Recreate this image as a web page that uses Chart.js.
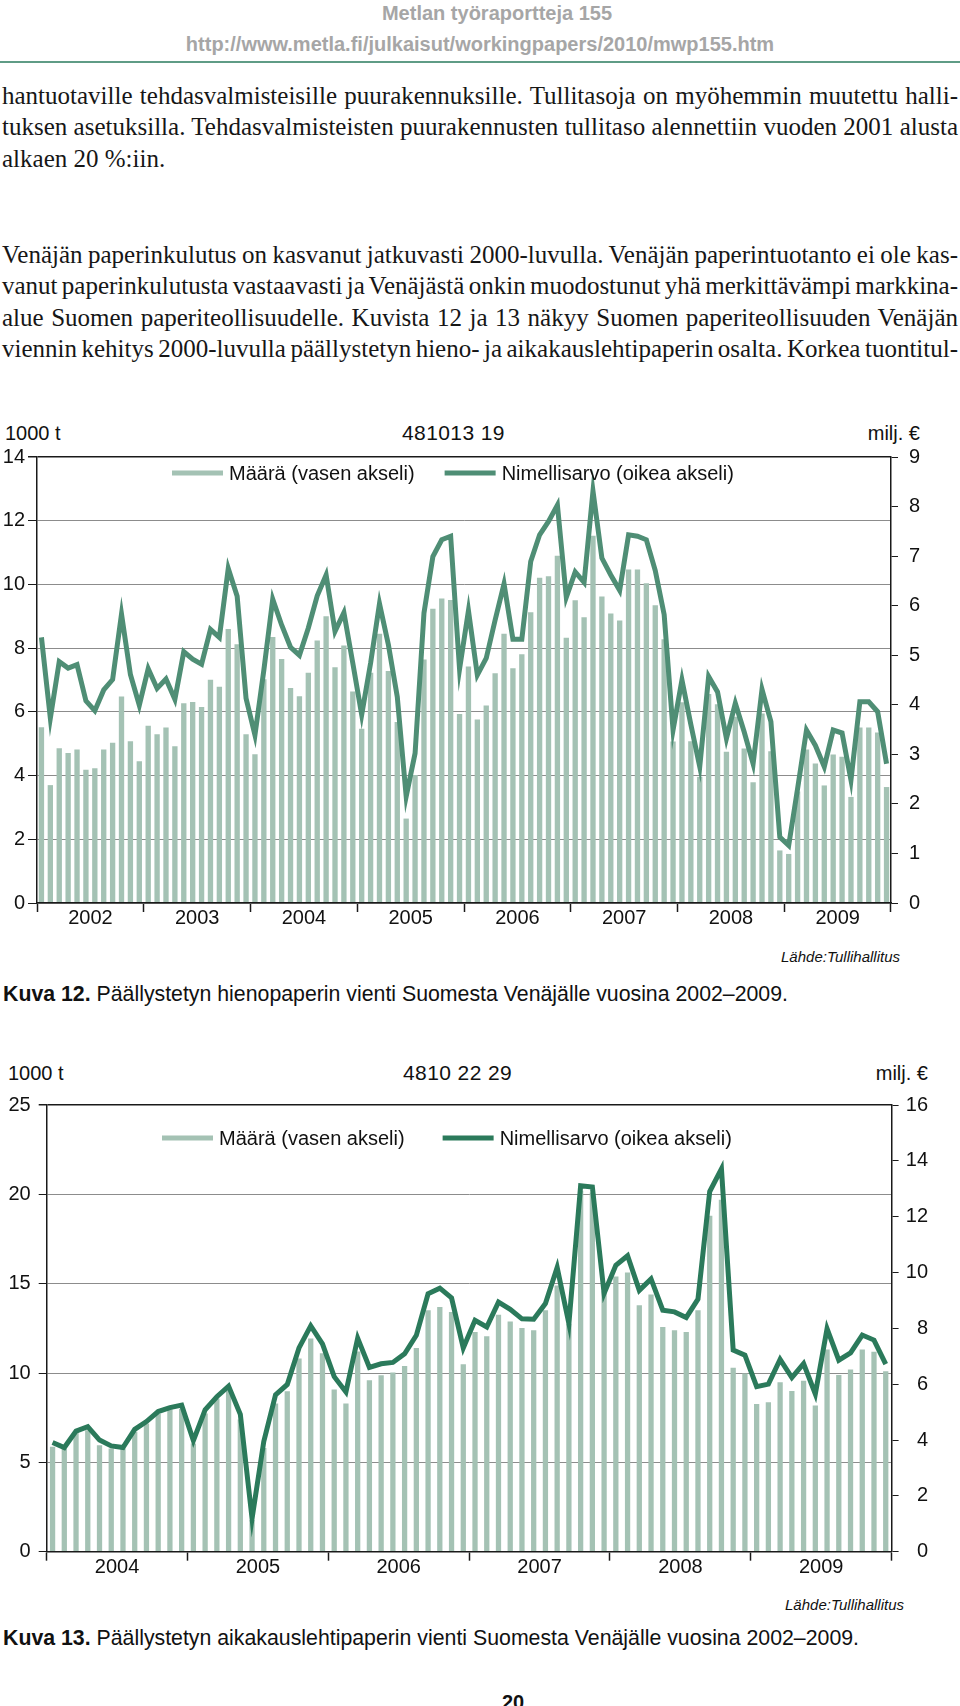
<!DOCTYPE html>
<html lang="fi">
<head>
<meta charset="utf-8">
<title>Kuvat 12 ja 13</title>
<script src="https://cdn.jsdelivr.net/npm/chart.js@4.4.1/dist/chart.umd.min.js"></script>
<style>
  body { margin: 0; background: #fff; }
  .page { position: relative; width: 960px; height: 1706px; overflow: hidden; background: #fff;
          font-family: "Liberation Sans", Arial, Helvetica, sans-serif; color: #111; }
  .abs { position: absolute; white-space: nowrap; line-height: 23px; font-size: 20px; }
  .hdr { font-weight: bold; color: #a6a6a6; text-align: center; width: 700px; }
  .rule { position: absolute; left: 0; top: 61px; width: 960px; height: 2px; background: #5f9c86; }
  .para { position: absolute; left: 2px; width: 956px; font-family: "Liberation Serif", "Times New Roman", serif;
          font-size: 25px; line-height: 31.4px; color: #161616; }
  .ln { white-space: nowrap; }
  .code { font-size: 21px; letter-spacing: 0.4px; }
  .cap { font-size: 21.3px; }
  .src { font-style: italic; font-size: 15px; }
  .box { position: absolute; left: 0; }
</style>
</head>
<body>
<div class="page">
  <div class="abs hdr" style="left:147px; top:2px;">Metlan työraportteja 155</div>
  <div class="abs hdr" style="left:130px; top:33px;">http://www.metla.fi/julkaisut/workingpapers/2010/mwp155.htm</div>
  <div class="rule"></div>

  <div class="para" style="top:80px;">
    <div class="ln j"><span>hantuotaville tehdasvalmisteisille puurakennuksille. Tullitasoja on myöhemmin muutettu halli-</span></div>
    <div class="ln j"><span>tuksen asetuksilla. Tehdasvalmisteisten puurakennusten tullitaso alennettiin vuoden 2001 alusta</span></div>
    <div class="ln"><span>alkaen 20 %:iin.</span></div>
  </div>
  <div class="para" style="top:239px;">
    <div class="ln j"><span>Venäjän paperinkulutus on kasvanut jatkuvasti 2000-luvulla. Venäjän paperintuotanto ei ole kas-</span></div>
    <div class="ln j"><span>vanut paperinkulutusta vastaavasti ja Venäjästä onkin muodostunut yhä merkittävämpi markkina-</span></div>
    <div class="ln j"><span>alue Suomen paperiteollisuudelle. Kuvista 12 ja 13 näkyy Suomen paperiteollisuuden Venäjän</span></div>
    <div class="ln j"><span>viennin kehitys 2000-luvulla päällystetyn hieno- ja aikakauslehtipaperin osalta. Korkea tuontitul-</span></div>
  </div>

  <!-- Kuva 12 -->
  <div class="abs" style="left:5px; top:422px;">1000 t</div>
  <div class="abs code" style="left:402px; top:421px;">481013 19</div>
  <div class="abs" style="right:40px; top:422px;">milj. €</div>
  <div class="box" style="top:440px; width:920px; height:500px;"><canvas id="chart12"></canvas></div>
  <div class="abs src" style="right:60px; top:945px;">Lähde:Tullihallitus</div>
  <div class="abs cap" style="left:3px; top:983px;"><b>Kuva 12.</b> Päällystetyn hienopaperin vienti Suomesta Venäjälle vuosina 2002–2009.</div>

  <!-- Kuva 13 -->
  <div class="abs" style="left:8px; top:1062px;">1000 t</div>
  <div class="abs code" style="left:403px; top:1061px;">4810 22 29</div>
  <div class="abs" style="right:32px; top:1062px;">milj. €</div>
  <div class="box" style="top:1085px; width:928px; height:505px;"><canvas id="chart13"></canvas></div>
  <div class="abs src" style="right:56px; top:1593px;">Lähde:Tullihallitus</div>
  <div class="abs cap" style="left:3px; top:1627px;"><b>Kuva 13.</b> Päällystetyn aikakauslehtipaperin vienti Suomesta Venäjälle vuosina 2002–2009.</div>

  <div class="abs" style="left:502px; top:1691px; font-weight:bold;">20</div>
</div>

<script>
const palette = {
  bar: "#a4c2b4",
  line12: "#4f8e75",
  line13: "#2b7a5b",
  grid: "#8c8c8c",
  axis: "#1a1a1a",
  ink: "#111111"
};

const legendLabels = ["Määrä (vasen akseli)", "Nimellisarvo (oikea akseli)"];

// Kuva 12, 2002-2009 monthly
const years12 = ["2002", "2003", "2004", "2005", "2006", "2007", "2008", "2009"];
const volume12 = [
  5.52, 3.70, 4.86, 4.71, 4.82, 4.18, 4.23, 4.82, 5.03, 6.48, 5.08, 4.45,
  5.56, 5.30, 5.51, 4.92, 6.27, 6.31, 6.15, 7.01, 6.79, 8.60, 8.12, 5.30,
  4.67, 7.02, 8.35, 7.66, 6.75, 6.49, 7.23, 8.24, 9.00, 7.40, 8.08, 6.64,
  5.47, 7.23, 8.45, 7.28, 5.68, 2.65, 4.02, 7.64, 9.24, 9.56, 9.51, 5.93,
  7.42, 5.76, 6.20, 7.21, 8.45, 7.37, 7.81, 9.13, 10.21, 10.26, 10.90, 8.33,
  9.50, 8.97, 11.53, 9.62, 9.09, 8.87, 10.47, 10.47, 10.04, 9.35, 8.28, 5.07,
  6.30, 5.08, 3.96, 6.56, 6.24, 4.75, 5.85, 4.85, 3.79, 5.95, 4.76, 1.65,
  1.54, 3.50, 4.82, 4.38, 3.69, 4.66, 4.59, 3.33, 5.51, 5.51, 5.35, 3.64
];
const value12 = [
  5.36, 3.73, 4.87, 4.74, 4.81, 4.08, 3.88, 4.30, 4.51, 5.83, 4.61, 3.99,
  4.73, 4.33, 4.52, 4.11, 5.07, 4.92, 4.82, 5.52, 5.36, 6.75, 6.19, 4.13,
  3.39, 4.70, 6.13, 5.61, 5.16, 5.00, 5.55, 6.20, 6.62, 5.48, 5.86, 4.84,
  3.80, 4.84, 6.04, 5.21, 4.16, 2.15, 3.02, 5.85, 6.99, 7.33, 7.40, 4.72,
  5.90, 4.60, 4.94, 5.71, 6.44, 5.32, 5.32, 6.89, 7.43, 7.70, 8.03, 6.17,
  6.68, 6.47, 8.31, 6.96, 6.62, 6.31, 7.43, 7.40, 7.33, 6.71, 5.82, 3.49,
  4.50, 3.60, 2.75, 4.57, 4.26, 3.32, 4.03, 3.45, 2.81, 4.31, 3.66, 1.33,
  1.16, 2.31, 3.49, 3.18, 2.75, 3.49, 3.43, 2.48, 4.06, 4.06, 3.86, 2.81
];

// Kuva 13, 2004-2009 monthly
const years13 = ["2004", "2005", "2006", "2007", "2008", "2009"];
const volume13 = [
  5.87, 5.77, 6.71, 6.80, 5.96, 5.78, 5.77, 6.71, 7.18, 7.71, 7.97, 8.00,
  6.06, 7.74, 8.57, 9.04, 7.40, 1.77, 5.80, 8.30, 8.98, 10.81, 11.93, 11.10,
  9.08, 8.30, 11.20, 9.60, 9.88, 10.03, 10.39, 11.40, 13.51, 13.70, 13.42, 10.49,
  12.30, 12.06, 13.26, 12.89, 12.52, 12.39, 13.51, 14.90, 12.76, 20.20, 20.10, 14.58,
  15.40, 15.63, 13.79, 14.40, 12.58, 12.39, 12.30, 13.51, 18.80, 19.70, 10.30, 9.98,
  8.27, 8.36, 9.48, 8.99, 9.57, 8.18, 11.32, 9.89, 10.20, 11.32, 11.19, 10.10
];
const value13 = [
  3.91, 3.73, 4.32, 4.48, 4.00, 3.79, 3.73, 4.38, 4.66, 5.02, 5.16, 5.25,
  3.98, 5.08, 5.55, 5.93, 4.92, 1.19, 3.95, 5.62, 5.99, 7.30, 8.09, 7.44,
  6.27, 5.72, 7.65, 6.60, 6.73, 6.78, 7.09, 7.75, 9.24, 9.44, 9.09, 7.30,
  8.29, 8.05, 8.94, 8.68, 8.34, 8.33, 8.89, 10.18, 8.17, 13.11, 13.06, 9.25,
  10.26, 10.60, 9.36, 9.77, 8.65, 8.59, 8.39, 9.05, 12.90, 13.71, 7.22, 7.04,
  5.91, 6.00, 6.89, 6.24, 6.74, 5.65, 7.99, 6.86, 7.12, 7.76, 7.58, 6.72
];

const monthLabels = (years) => years.flatMap((y) => Array.from({ length: 12 }, (_, m) => `${m + 1}/${y}`));

Chart.defaults.font.family = '"Liberation Sans", Arial, Helvetica, sans-serif';
Chart.defaults.font.size = 20;
Chart.defaults.color = palette.ink;

// legend drawn inside the plot, near the top
const insideLegend = {
  id: "insideLegend",
  afterDraw(chart, _args, opts) {
    const { ctx } = chart;
    let x = opts.x;
    ctx.save();
    ctx.font = `20px ${Chart.defaults.font.family}`;
    ctx.textBaseline = "middle";
    ctx.fillStyle = palette.ink;
    chart.data.datasets.forEach((ds) => {
      ctx.strokeStyle = ds.type === "line" ? ds.borderColor : ds.backgroundColor;
      ctx.lineWidth = 5;
      ctx.beginPath();
      ctx.moveTo(x, opts.y);
      ctx.lineTo(x + 51, opts.y);
      ctx.stroke();
      ctx.fillText(ds.label, x + 57, opts.y + 1);
      x += 57 + ctx.measureText(ds.label).width + opts.gap;
    });
    ctx.restore();
  }
};

// year labels centred under each group of 12 months
const yearLabels = {
  id: "yearLabels",
  afterDraw(chart, _args, opts) {
    const { ctx, chartArea } = chart;
    const xScale = chart.scales.x;
    ctx.save();
    ctx.font = `20px ${Chart.defaults.font.family}`;
    ctx.fillStyle = palette.ink;
    ctx.textAlign = "center";
    ctx.textBaseline = "middle";
    opts.years.forEach((year, k) => {
      const mid = (xScale.getPixelForValue(k * 12) + xScale.getPixelForValue(k * 12 + 11)) / 2;
      ctx.fillText(year, mid, chartArea.bottom + opts.offset);
    });
    ctx.restore();
  }
};

const buildChart = (canvasId, setup) => new Chart(document.getElementById(canvasId), {
  type: "bar",
  data: {
    labels: monthLabels(setup.years),
    datasets: [
      {
        type: "bar",
        label: legendLabels[0],
        data: setup.volume,
        yAxisID: "y",
        backgroundColor: palette.bar,
        categoryPercentage: 1,
        barPercentage: setup.barPct,
        order: 2
      },
      {
        type: "line",
        label: legendLabels[1],
        data: setup.value,
        yAxisID: "y1",
        borderColor: setup.lineColor,
        borderWidth: 5,
        pointRadius: 0,
        tension: 0,
        borderJoinStyle: "miter",
        order: 1
      }
    ]
  },
  options: {
    responsive: true,
    maintainAspectRatio: false,
    animation: false,
    events: [],
    layout: { padding: { top: setup.padTop, left: 0, right: 0, bottom: 0 } },
    plugins: {
      legend: { display: false },
      tooltip: { enabled: false },
      insideLegend: { x: setup.legendX, y: setup.legendY, gap: setup.legendGap },
      yearLabels: { years: setup.years, offset: setup.yearOffset }
    },
    scales: {
      x: {
        offset: true,
        grid: {
          offset: true,
          drawOnChartArea: false,
          tickLength: 9,
          tickWidth: 1.5,
          tickColor: (ctx) => (ctx.index === undefined || ctx.index % 12 === 0 ? palette.axis : "rgba(0,0,0,0)")
        },
        border: { color: palette.axis, width: 1.5, z: 1 },
        ticks: { display: false, autoSkip: false },
        afterFit: (scale) => { scale.height = setup.xHeight; }
      },
      y: {
        position: "left",
        min: 0,
        max: setup.leftMax,
        ticks: { stepSize: setup.leftStep, padding: setup.leftPad, color: palette.ink },
        grid: {
          color: (ctx) => (ctx.tick && ctx.tick.value === setup.leftMax ? palette.axis : palette.grid),
          lineWidth: (ctx) => (ctx.tick && ctx.tick.value === setup.leftMax ? 1.5 : 1),
          tickLength: setup.leftTick,
          tickColor: palette.axis
        },
        border: { color: palette.axis, width: 1.5, z: 1 },
        afterFit: (scale) => { scale.width = setup.leftWidth; }
      },
      y1: {
        position: "right",
        min: 0,
        max: setup.rightMax,
        ticks: { stepSize: setup.rightStep, crossAlign: "far", color: palette.ink },
        grid: { drawOnChartArea: false, tickLength: 7, tickColor: palette.axis },
        border: { color: palette.axis, width: 1.5, z: 1 },
        afterFit: (scale) => { scale.width = setup.rightWidth; }
      }
    }
  },
  plugins: [insideLegend, yearLabels]
});

const justifyLines = () => {
  document.querySelectorAll(".ln.j span").forEach((span) => {
    span.style.wordSpacing = "0px";
    const natural = span.getBoundingClientRect().width;
    const gaps = (span.textContent.match(/ /g) || []).length;
    if (gaps > 0) {
      span.style.wordSpacing = `${(956 - natural) / gaps}px`;
    }
  });
};

const draw = () => {
  justifyLines();
  buildChart("chart12", {
    years: years12, volume: volume12, value: value12,
    lineColor: palette.line12, barPct: 0.6,
    padTop: 17, xHeight: 37, leftWidth: 37, rightWidth: 29,
    leftMax: 14, leftStep: 2, leftTick: 9, leftPad: 3,
    rightMax: 9, rightStep: 1,
    legendX: 172, legendY: 33, legendGap: 30, yearOffset: 15
  });
  buildChart("chart13", {
    years: years13, volume: volume13, value: value13,
    lineColor: palette.line13, barPct: 0.45,
    padTop: 19, xHeight: 38.3, leftWidth: 46.7, rightWidth: 36.4,
    leftMax: 25, leftStep: 5, leftTick: 8, leftPad: 8,
    rightMax: 16, rightStep: 2,
    legendX: 162, legendY: 53, legendGap: 38, yearOffset: 16
  });
};

if (document.fonts && document.fonts.ready) {
  document.fonts.ready.then(draw);
} else {
  draw();
}
</script>
</body>
</html>
